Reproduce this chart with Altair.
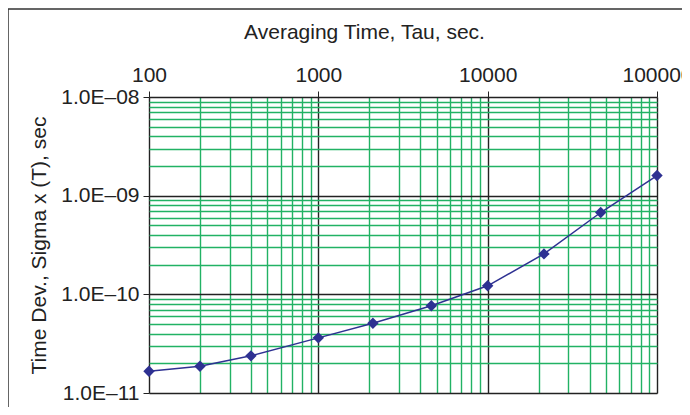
import altair as alt
import pandas as pd

# Data
tau = [100, 200, 400, 1000, 2100, 4650, 10000, 21500, 46500, 100000]
sigma = [1.66e-11, 1.87e-11, 2.38e-11, 3.62e-11, 5.1e-11, 7.66e-11,
         1.22e-10, 2.57e-10, 6.75e-10, 1.6e-9]

x_major = [100, 1000, 10000, 100000]
y_major = [1e-11, 1e-10, 1e-9, 1e-8]
x_all = sorted(set(x_major + [k * d for d in x_major[:-1] for k in range(2, 10)]))
y_all = sorted(set(y_major + [k * d for d in y_major[:-1] for k in range(2, 10)]))

df = pd.DataFrame({"tau": tau, "sigma": sigma})

FONT = "Liberation Sans"
FS = 21
GREEN = "#22b264"
is_major = "abs(log(datum.value)/LN10 - round(log(datum.value)/LN10)) < 0.001"

x_scale = alt.Scale(type="log", domain=[100, 100000], nice=False)
y_scale = alt.Scale(type="log", domain=[1e-11, 1e-8], nice=False)

x_axis = alt.Axis(
    orient="top", values=x_all, title="Averaging Time, Tau, sec.",
    labelExpr=f"({is_major}) ? format(datum.value, 'd') : ''",
    grid=True,
    gridColor={"condition": {"test": is_major, "value": "#222222"}, "value": GREEN},
    gridWidth=1.4,
    tickColor="#222222",
    tickOpacity={"condition": {"test": is_major, "value": 1}, "value": 0},
    tickSize=6, labelPadding=6, domain=False,
    labelFont=FONT, labelFontSize=FS, labelColor="#222222",
    titleFont=FONT, titleFontSize=FS, titleFontWeight="normal", titleColor="#222222",
    titleX=215, titleY=-65, titleAlign="center", titleBaseline="middle",
    labelFlush=False, labelOverlap=False,
)
y_axis = alt.Axis(
    orient="left", values=y_all, title="Time Dev., Sigma x (T), sec",
    labelExpr=f"({is_major}) ? ('1.0E\u2013' + (round(-log(datum.value)/LN10) < 10 ? '0' : '') + round(-log(datum.value)/LN10)) : ''",
    grid=True,
    gridColor={"condition": {"test": is_major, "value": "#222222"}, "value": GREEN},
    gridWidth=1.4,
    tickColor="#222222",
    tickOpacity={"condition": {"test": is_major, "value": 1}, "value": 0},
    tickSize=6, labelPadding=4, domain=False,
    labelFont=FONT, labelFontSize=FS, labelColor="#222222",
    titleFont=FONT, titleFontSize=FS, titleFontWeight="normal", titleColor="#222222",
    titleX=-110, titleY=148, titleAngle=-90, titleAlign="center", titleBaseline="middle",
    labelFlush=False, labelOverlap=False,
)

base = alt.Chart(df)
line = base.mark_line(color="#2e3192", strokeWidth=1.5).encode(
    x=alt.X("tau:Q", scale=x_scale, axis=x_axis),
    y=alt.Y("sigma:Q", scale=y_scale, axis=y_axis),
)
pts = base.mark_point(shape="diamond", filled=True, size=130, color="#2e3192", opacity=1).encode(
    x=alt.X("tau:Q", scale=x_scale),
    y=alt.Y("sigma:Q", scale=y_scale),
)
frame = alt.Chart(pd.DataFrame({"a": [0]})).mark_rect(
    fill=None, stroke="#333333", strokeWidth=1.5
).encode(
    x=alt.value(-141), x2=alt.value(600), y=alt.value(-88), y2=alt.value(400)
)

chart = alt.layer(frame, line, pts).properties(
    width=508, height=296,
    autosize=alt.AutoSizeParams(type="none"),
    padding={"left": 141, "top": 89, "right": 25, "bottom": 14},
).configure_view(stroke="#222222", strokeWidth=1.2).configure(background="white")

chart.save("out.html", embed_options={"renderer": "svg", "actions": False})
